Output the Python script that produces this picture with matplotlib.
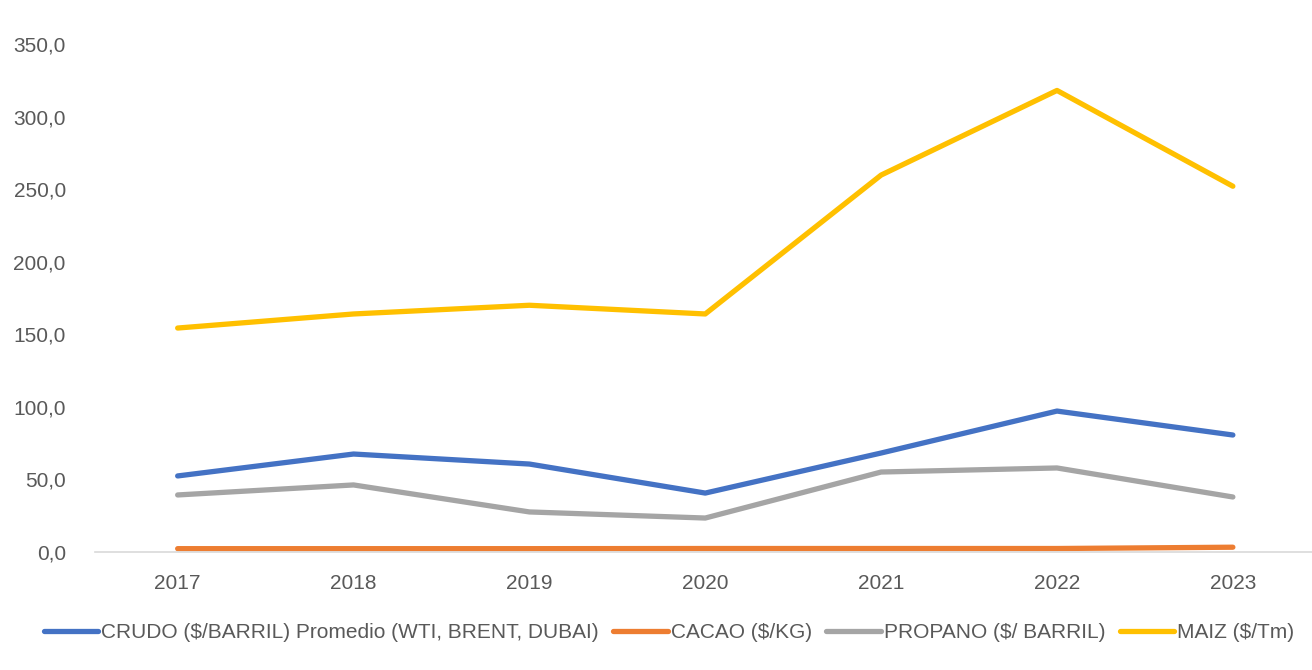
import matplotlib.pyplot as plt
from matplotlib.ticker import FuncFormatter

years = ['2017', '2018', '2019', '2020', '2021', '2022', '2023']
crudo = [52.4, 67.5, 60.6, 40.6, 68.2, 97.1, 80.6]
cacao = [2.3, 2.3, 2.3, 2.4, 2.4, 2.4, 3.3]
propano = [39.3, 46.2, 27.6, 23.4, 55.1, 57.9, 37.9]
maiz = [154.3, 164.0, 170.0, 164.0, 259.7, 318.0, 252.0]

labels = ['CRUDO ($/BARRIL) Promedio (WTI, BRENT, DUBAI)', 'CACAO ($/KG)',
          'PROPANO ($/ BARRIL)', 'MAIZ ($/Tm)']
colors = ['#4472C4', '#ED7D31', '#A5A5A5', '#FFC000']

plt.rcParams['font.family'] = ['Liberation Sans', 'DejaVu Sans']

fig = plt.figure(figsize=(13.12, 6.7), dpi=100)
ax = fig.add_axes([95 / 1312, 1 - 552 / 670, 1 - 95 / 1312, (552 - 44) / 670])

x = range(len(years))
for series, lab, c in zip([crudo, cacao, propano, maiz], labels, colors):
    ax.plot(x, series, color=c, lw=3.8, label=lab, solid_capstyle='round')

ax.set_xlim(-0.47, 6.45)
ax.set_ylim(0, 350)
ax.set_yticks(range(0, 351, 50))
ax.yaxis.set_major_formatter(FuncFormatter(lambda v, p: '{:.1f}'.format(v).replace('.', ',')))
ax.set_xticks(list(x))
ax.set_xticklabels(years)

for s in ['top', 'right', 'left']:
    ax.spines[s].set_visible(False)
ax.spines['bottom'].set_color('#D9D9D9')
ax.spines['bottom'].set_linewidth(1.2)
ax.tick_params(axis='both', length=0, labelsize=15, colors='#595959')
ax.tick_params(axis='x', pad=16)
ax.tick_params(axis='y', pad=21)

fig.legend(loc='center', bbox_to_anchor=(0.51, 1 - 633 / 670), ncol=4, frameon=False,
           fontsize=15, handlelength=2.6, columnspacing=0.7, handletextpad=0.15,
           labelcolor='#595959')

fig.savefig('out.png')
